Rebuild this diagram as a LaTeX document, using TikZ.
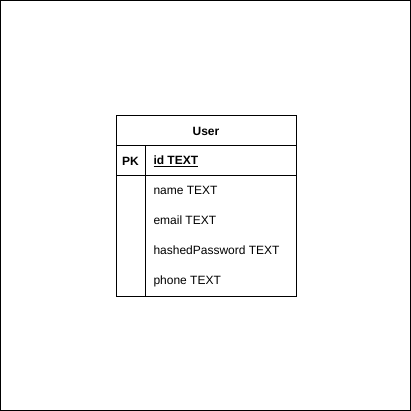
\documentclass[tikz,border=0pt]{standalone}
\usepackage{fontspec}
\setmainfont{Liberation Sans}
\usepackage{tikz}
\usetikzlibrary{positioning}

\begin{document}
\begin{tikzpicture}[x=1pt, y=-1pt, line width=1pt,
		rowbox/.style={draw, minimum width=180pt, minimum height=30pt, inner sep=0pt, outer sep=0pt},
		field/.style={anchor=west, inner sep=0pt, font=\fontsize{12}{14}\selectfont},
	]
	\useasboundingbox (0,0) rectangle (411,411);
	\draw (0.5,0.5) rectangle (410.5,410.5);
	% table
	\node[rowbox, font=\bfseries\fontsize{12}{14}\selectfont] (head) at (206,131) {User};
	\node[rowbox, below=0pt of head] (pkrow) {};
	\node[rowbox, minimum height=120pt, below=0pt of pkrow] (body) {};
	\draw ([xshift=29pt]pkrow.north west) -- ([xshift=29pt]body.south west);
	% fields
	\node[font=\bfseries\fontsize{12}{14}\selectfont] (pk) at (130.5,161) {PK};
	\node[field, font=\bfseries\fontsize{12}{14}\selectfont] (fid) at (153,161) {\underline{id TEXT}};
	\node[field] (fname) at (153,190) {name TEXT};
	\node[field] (femail) at (153,220) {email TEXT};
	\node[field] (fpass) at (153,250) {hashedPassword TEXT};
	\node[field] (fphone) at (153,281) {phone TEXT};
\end{tikzpicture}
\end{document}
